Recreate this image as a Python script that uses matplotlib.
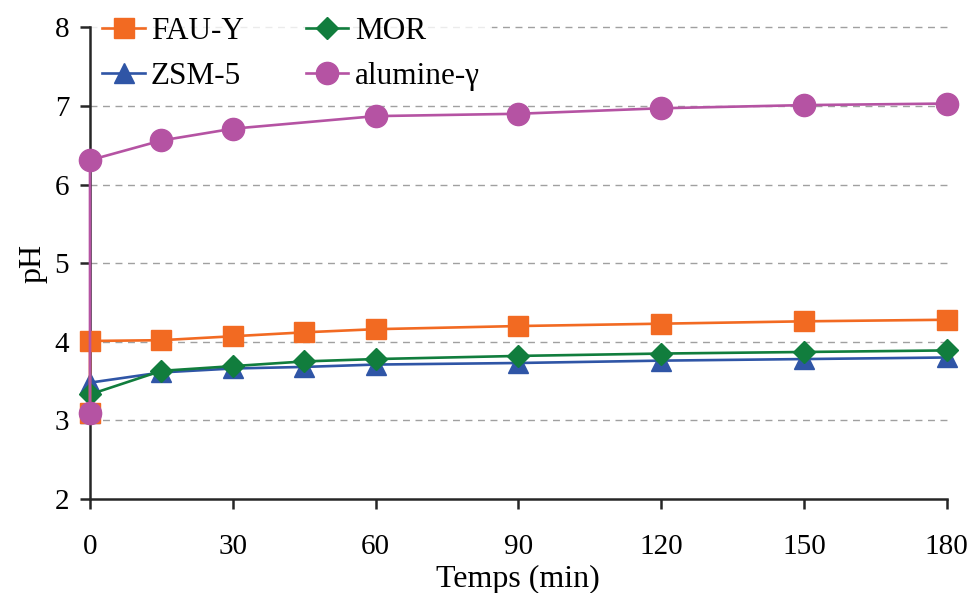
import matplotlib
matplotlib.use("Agg")
import matplotlib.pyplot as plt

plt.rcParams['font.family'] = ['Liberation Serif', 'DejaVu Serif']

t_fau = [0, 0, 15, 30, 45, 60, 90, 120, 150, 180]
fau = [3.1, 4.01, 4.02, 4.07, 4.12, 4.16, 4.20, 4.23, 4.26, 4.28]
t_mor = [0, 0, 15, 30, 45, 60, 90, 120, 150, 180]
mor = [3.1, 3.33, 3.63, 3.69, 3.75, 3.78, 3.82, 3.85, 3.87, 3.89]
t_zsm = [0, 0, 15, 30, 45, 60, 90, 120, 150, 180]
zsm = [3.1, 3.48, 3.61, 3.66, 3.68, 3.71, 3.73, 3.76, 3.78, 3.80]
t_alu = [0, 0, 15, 30, 60, 90, 120, 150, 180]
alu = [3.1, 6.31, 6.56, 6.71, 6.87, 6.90, 6.97, 7.01, 7.03]

xticks = [0, 30, 60, 90, 120, 150, 180]
yticks = [2, 3, 4, 5, 6, 7, 8]

fig = plt.figure(figsize=(9.75, 5.93), dpi=100)
ax = fig.add_axes([0.0923, 0.1585, 0.8787, 0.7955])

c_fau = '#F26A22'
c_mor = '#117D3D'
c_zsm = '#2F55A6'
c_alu = '#B553A3'

for y in yticks[1:]:
    ax.axhline(y, color='#A0A0A0', lw=1.0, ls=(0, (5, 4)), zorder=0)

l3, = ax.plot(t_zsm, zsm, color=c_zsm, marker='^', ms=15, lw=1.9, label='ZSM-5', zorder=3)
l2, = ax.plot(t_mor, mor, color=c_mor, marker='D', ms=11, lw=1.9, label='MOR', zorder=3)
l1, = ax.plot(t_fau, fau, color=c_fau, marker='s', ms=15, lw=1.9, label='FAU-Y', zorder=3)
l4, = ax.plot(t_alu, alu, color=c_alu, marker='o', ms=16, lw=1.9, label='alumine-γ', zorder=4)

ax.set_xlim(0, 180)
ax.set_ylim(2, 8)
ax.set_xticks(xticks)
ax.set_yticks(yticks)
for s in ['top', 'right']:
    ax.spines[s].set_visible(False)
for s in ['left', 'bottom']:
    ax.spines[s].set_color('#262626')
    ax.spines[s].set_linewidth(1.8)
    ax.spines[s].set_zorder(2.5)
ax.tick_params(direction='out', length=7, width=1.8, color='#262626', labelsize=21)
ax.tick_params(axis='x', pad=18)
ax.tick_params(axis='y', pad=8)
for sp in ax.spines.values():
    sp.set_clip_on(False)
for line in ax.get_lines():
    line.set_clip_on(False)

ax.set_xlabel('Temps (min)', fontsize=23, labelpad=4)
ax.set_ylabel('pH', fontsize=23, labelpad=5)

leg = ax.legend(handles=[l1, l3, l2, l4], ncol=2, loc='upper left', frameon=True,
                fontsize=22.5, handlelength=1.35, handletextpad=0.2, columnspacing=2.0,
                labelspacing=0.52, borderaxespad=0.0, bbox_to_anchor=(0.0, 1.049),
                markerscale=1.0)
leg.get_frame().set_facecolor('white')
leg.get_frame().set_edgecolor('none')
leg.set_zorder(1)

fig.savefig('out.png', dpi=100)
